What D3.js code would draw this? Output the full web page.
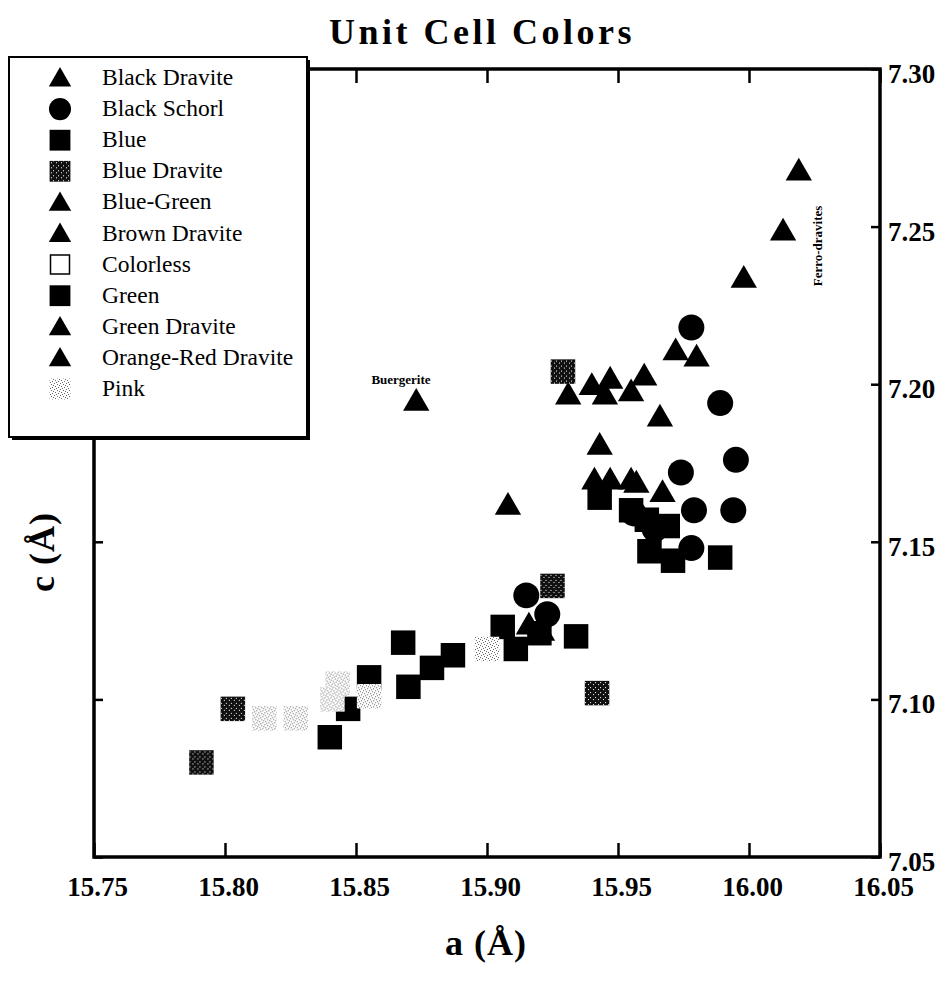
<!DOCTYPE html>
<html><head><meta charset="utf-8">
<script src="https://cdn.jsdelivr.net/npm/d3@7"></script>
<style>body{margin:0;background:#fff}svg{display:block}</style>
</head><body>
<svg id="chart" width="950" height="991"></svg>
<script>
// ---- data (a, c in Å) ----
const seriesNames = ["Black Dravite","Black Schorl","Blue","Blue Dravite","Blue-Green","Brown Dravite","Colorless","Green","Green Dravite","Orange-Red Dravite","Pink"];
const blackDraviteA = [16.019,16.013,15.998,15.972,15.980];
const blackDraviteC = [7.267,7.248,7.233,7.210,7.208];
const blackSchorlA = [15.978,15.989,15.995,15.974,15.979,15.994,15.978,15.956,15.964,15.915,15.923];
const blackSchorlC = [7.218,7.194,7.176,7.172,7.160,7.160,7.148,7.159,7.154,7.133,7.127];
const blueA = [15.943,15.955,15.961,15.969,15.962,15.971,15.989,15.906,15.911];
const blueC = [7.164,7.160,7.157,7.155,7.147,7.144,7.145,7.123,7.116];
const blueDraviteA = [15.929,15.925,15.942,15.803,15.791];
const blueDraviteC = [7.204,7.136,7.102,7.097,7.080];
const blueGreenA = [15.908,15.916,15.921];
const blueGreenC = [7.161,7.123,7.121];
const brownDraviteA = [15.960,15.947,15.940,15.945,15.955,15.931,15.966,15.943];
const brownDraviteC = [7.202,7.201,7.199,7.196,7.197,7.196,7.189,7.180];
const colorlessA = [];
const colorlessC = [];
const greenA = [15.920,15.934,15.868,15.887,15.879,15.870,15.855,15.847,15.840];
const greenC = [7.121,7.120,7.118,7.114,7.110,7.104,7.107,7.097,7.088];
const greenDraviteA = [15.941,15.947,15.955,15.957,15.967];
const greenDraviteC = [7.169,7.169,7.169,7.168,7.165];
const orangeRedDraviteA = [15.873];
const orangeRedDraviteC = [7.194];
const pinkA = [15.815,15.827,15.843,15.841,15.855,15.900];
const pinkC = [7.094,7.094,7.105,7.100,7.101,7.116];
const xTicks = [15.75,15.80,15.85,15.90,15.95,16.00,16.05];
const yTicks = [7.05,7.10,7.15,7.20,7.25,7.30];

// ---- styling ----
const shapeOf = {"Black Dravite":"tri","Black Schorl":"circ","Blue":"sq","Blue Dravite":"sqd","Blue-Green":"tri","Brown Dravite":"tri","Colorless":"open","Green":"sq","Green Dravite":"tri","Orange-Red Dravite":"tri","Pink":"pink"};
const seriesData = [
  ["Black Dravite",blackDraviteA,blackDraviteC],["Black Schorl",blackSchorlA,blackSchorlC],["Blue",blueA,blueC],
  ["Blue Dravite",blueDraviteA,blueDraviteC],["Blue-Green",blueGreenA,blueGreenC],["Brown Dravite",brownDraviteA,brownDraviteC],
  ["Colorless",colorlessA,colorlessC],["Green",greenA,greenC],["Green Dravite",greenDraviteA,greenDraviteC],
  ["Orange-Red Dravite",orangeRedDraviteA,orangeRedDraviteC],["Pink",pinkA,pinkC]
];

const svg = d3.select("#chart");
const serif = "'Liberation Serif','Times New Roman',serif";
const L=94,R=880,T=69,B=857;
const x = d3.scaleLinear().domain([15.75,16.05]).range([L,R]);
const y = d3.scaleLinear().domain([7.05,7.30]).range([B,T]);

// patterns
const defs = svg.append("defs");
const pp = defs.append("pattern").attr("id","pinkPat").attr("patternUnits","userSpaceOnUse").attr("width",6).attr("height",6);
pp.append("rect").attr("width",6).attr("height",6).attr("fill","#fff");
[[0,0],[3,1],[1,3],[4,4],[2,5],[5,2]].forEach(p=>pp.append("rect").attr("x",p[0]).attr("y",p[1]).attr("width",1).attr("height",1).attr("fill","#666"));
const bp = defs.append("pattern").attr("id","bdPat").attr("patternUnits","userSpaceOnUse").attr("width",5).attr("height",5);
bp.append("rect").attr("width",5).attr("height",5).attr("fill","#111");
[[1,1],[3,4]].forEach(p=>bp.append("rect").attr("x",p[0]).attr("y",p[1]).attr("width",1).attr("height",1).attr("fill","#fff"));

function drawMarker(g, shape, cx, cy, scale){
  scale = scale||1;
  const tr = `translate(${cx},${cy})`;
  if(shape==="tri"){
    g.append("path").attr("d",d3.symbol(d3.symbolTriangle, 300*scale*scale)()).attr("transform",tr).attr("fill","#000");
  } else if(shape==="circ"){
    g.append("path").attr("d",d3.symbol(d3.symbolCircle, 530*scale*scale)()).attr("transform",tr).attr("fill","#000");
  } else if(shape==="sq"){
    g.append("path").attr("d",d3.symbol(d3.symbolSquare, 600*scale*scale)()).attr("transform",tr).attr("fill","#000");
  } else if(shape==="sqd"){
    g.append("path").attr("d",d3.symbol(d3.symbolSquare, 600*scale*scale)()).attr("transform",tr).attr("fill","url(#bdPat)");
  } else if(shape==="open"){
    g.append("path").attr("d",d3.symbol(d3.symbolSquare, 500*scale*scale)()).attr("transform",tr).attr("fill","#fff").attr("stroke","#000").attr("stroke-width",1.5);
  } else if(shape==="pink"){
    g.append("path").attr("d",d3.symbol(d3.symbolSquare, 600*scale*scale)()).attr("transform",tr).attr("fill","url(#pinkPat)");
  }
}

// title
svg.append("text").attr("x",482).attr("y",44).attr("text-anchor","middle")
  .attr("font-family",serif).attr("font-weight","bold").attr("font-size",36).attr("letter-spacing",3.5).text("Unit Cell Colors");

// axes
const ax = svg.append("g").attr("font-family",serif);
const gBottom = ax.append("g").attr("transform",`translate(0,${B})`)
  .call(d3.axisBottom(x).tickValues(xTicks).tickSize(-14).tickPadding(20).tickFormat(d3.format(".2f")));
const gTop = ax.append("g").attr("transform",`translate(0,${T})`)
  .call(d3.axisTop(x).tickValues(xTicks).tickSize(-14).tickFormat(""));
const gLeft = ax.append("g").attr("transform",`translate(${L},0)`)
  .call(d3.axisLeft(y).tickValues(yTicks).tickSize(-9).tickFormat(""));
const gRight = ax.append("g").attr("transform",`translate(${R},0)`)
  .call(d3.axisRight(y).tickValues(yTicks).tickSize(-9).tickPadding(8).tickFormat(d3.format(".2f")));
[gBottom,gTop,gLeft,gRight].forEach(g=>{
  g.select(".domain").remove();
  g.selectAll(".tick line").attr("stroke","#000").attr("stroke-width",2.5);
  g.selectAll("text").attr("font-family",serif).attr("font-weight","bold").attr("fill","#000");
});
gBottom.selectAll("text").attr("font-size",27).attr("dx",3);
gRight.selectAll("text").attr("font-size",27).attr("dy","0.5em");
// frame
svg.append("rect").attr("x",L).attr("y",T).attr("width",R-L).attr("height",B-T)
  .attr("fill","none").attr("stroke","#000").attr("stroke-width",3.5);

// axis titles
svg.append("text").attr("x",486).attr("y",955).attr("text-anchor","middle")
  .attr("font-family",serif).attr("font-weight","bold").attr("font-size",36).attr("letter-spacing",1).text("a (Å)");
svg.append("text").attr("transform","translate(54,552) rotate(-90)").attr("text-anchor","middle")
  .attr("font-family",serif).attr("font-weight","bold").attr("font-size",36).attr("letter-spacing",1).text("c (Å)");

// points
const pts = svg.append("g");
const drawOrder = ["Black Dravite","Blue-Green","Brown Dravite","Green Dravite","Orange-Red Dravite","Black Schorl","Blue","Green","Blue Dravite","Colorless","Pink"];
drawOrder.forEach(name=>{
  const s = seriesData.find(d=>d[0]===name);
  s[1].forEach((a,i)=>drawMarker(pts, shapeOf[name], x(a), y(s[2][i])));
});

// annotations
svg.append("text").attr("x",401).attr("y",384).attr("text-anchor","middle")
  .attr("font-family",serif).attr("font-weight","bold").attr("font-size",13).text("Buergerite");
svg.append("text").attr("transform","translate(822,246) rotate(-90)").attr("text-anchor","middle")
  .attr("font-family",serif).attr("font-weight","bold").attr("font-size",13).text("Ferro-dravites");

// legend
const lg = svg.append("g");
lg.append("rect").attr("x",12).attr("y",60).attr("width",298).attr("height",380).attr("fill","#000");
lg.append("rect").attr("x",9).attr("y",57).attr("width",298).attr("height",380).attr("fill","#fff").attr("stroke","#000").attr("stroke-width",2);
seriesNames.forEach((name,i)=>{
  const ry = 78 + i*31.1;
  drawMarker(lg, shapeOf[name], 60, ry+ (shapeOf[name]==="tri"?2:0), 0.85);
  lg.append("text").attr("x",102).attr("y",ry+7).attr("font-family",serif).attr("font-size",23.5).attr("fill","#000").text(name);
});
</script>
</body></html>
